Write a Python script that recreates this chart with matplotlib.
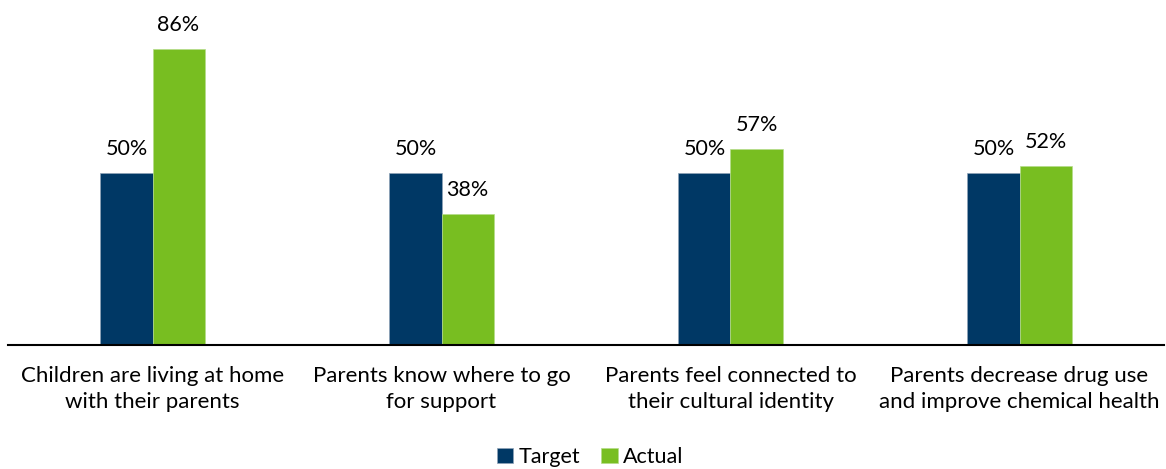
import matplotlib.pyplot as plt
import numpy as np

plt.rcParams['font.family'] = ['Lato', 'DejaVu Sans']

categories = ['Children are living at home\nwith their parents',
              'Parents know where to go\nfor support',
              'Parents feel connected to\ntheir cultural identity',
              'Parents decrease drug use\nand improve chemical health']
target = [50, 50, 50, 50]
actual = [86, 38, 57, 52]

navy = '#003865'
green = '#78BE21'

fig = plt.figure(figsize=(11.66, 4.69), dpi=100)
ax = fig.add_axes([8 / 1166, 1 - 345 / 469, 1156 / 1166, 344 / 469])

x = np.arange(len(categories))
w = 0.18
b1 = ax.bar(x - w / 2, target, w, color=navy, edgecolor='#8fa3b8', linewidth=0.5, label='Target')
b2 = ax.bar(x + w / 2, actual, w, color=green, edgecolor='#b5dc8a', linewidth=0.5, label='Actual')

for bars, vals in ((b1, target), (b2, actual)):
    for r, v in zip(bars, vals):
        ax.annotate(f'{v}%', (r.get_x() + r.get_width() / 2, v), xytext=(0, 10),
                    textcoords='offset points', ha='center', va='bottom', fontsize=15.5)

ax.set_xlim(-0.5, len(categories) - 0.5)
ax.set_ylim(0, 100)
ax.set_yticks([])
ax.set_xticks(x)
ax.set_xticklabels(categories, fontsize=16, linespacing=1.4)
ax.tick_params(axis='x', length=0, pad=15)
for s in ('top', 'right', 'left'):
    ax.spines[s].set_visible(False)
ax.spines['bottom'].set_linewidth(1.5)

fig.legend(handles=[b1, b2], loc='center', bbox_to_anchor=(590 / 1166, 1 - 457 / 469),
           ncol=2, frameon=False, fontsize=15.5, handlelength=0.75, handleheight=0.75,
           handletextpad=0.25, columnspacing=1.0)

fig.savefig('out.png', dpi=100)
